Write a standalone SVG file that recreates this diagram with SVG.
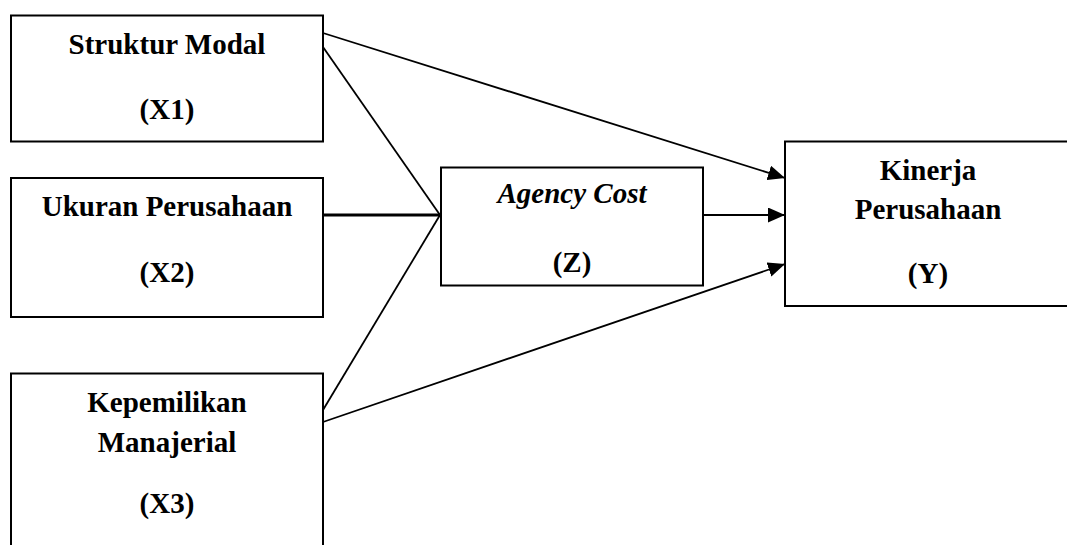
<svg xmlns="http://www.w3.org/2000/svg" width="1067" height="545" viewBox="0 0 1067 545">
<style>
.box{fill:#fff;stroke:#000;stroke-width:2}
.t{font-family:"Liberation Serif","Times New Roman",serif;font-weight:bold;font-size:29px;text-anchor:middle;fill:#000}
.i{font-style:italic}
.ln{stroke:#000;stroke-width:1.8;fill:none}
</style>
<defs>
<marker id="ah" markerWidth="17" markerHeight="15" refX="17" refY="7.5" orient="auto" markerUnits="userSpaceOnUse">
<path d="M0,0 L17,7.5 L0,15 Z" fill="#000"/>
</marker>
</defs>
<rect width="1067" height="545" fill="#fff"/>
<g id="connectors">
<line class="ln" x1="323" y1="33" x2="785" y2="178" marker-end="url(#ah)"/>
<line class="ln" x1="323" y1="47" x2="440" y2="215"/>
<line class="ln" x1="323" y1="215" x2="440" y2="215" style="stroke-width:3"/>
<line class="ln" x1="323" y1="410" x2="440" y2="215"/>
<line class="ln" x1="323" y1="422" x2="785" y2="264" marker-end="url(#ah)"/>
<line class="ln" x1="703" y1="215" x2="785" y2="215" marker-end="url(#ah)"/>
</g>
<g id="x1">
<rect class="box" x="11" y="15.5" width="312" height="126"/>
<text class="t" x="167" y="54">Struktur Modal</text>
<text class="t" x="167" y="119">(X1)</text>
</g>
<g id="x2">
<rect class="box" x="11" y="178" width="312" height="139"/>
<text class="t" x="167" y="216">Ukuran Perusahaan</text>
<text class="t" x="167" y="282">(X2)</text>
</g>
<g id="x3">
<rect class="box" x="11" y="373.5" width="312" height="190"/>
<text class="t" x="167" y="412">Kepemilikan</text>
<text class="t" x="167" y="452">Manajerial</text>
<text class="t" x="167" y="513">(X3)</text>
</g>
<g id="z">
<rect class="box" x="441" y="167.5" width="262" height="118"/>
<text class="t i" x="572" y="203">Agency Cost</text>
<text class="t" x="572" y="272">(Z)</text>
</g>
<g id="y">
<rect class="box" x="785" y="141.5" width="300" height="164.5"/>
<text class="t" x="928" y="180">Kinerja</text>
<text class="t" x="928" y="219">Perusahaan</text>
<text class="t" x="928" y="283">(Y)</text>
</g>
</svg>
